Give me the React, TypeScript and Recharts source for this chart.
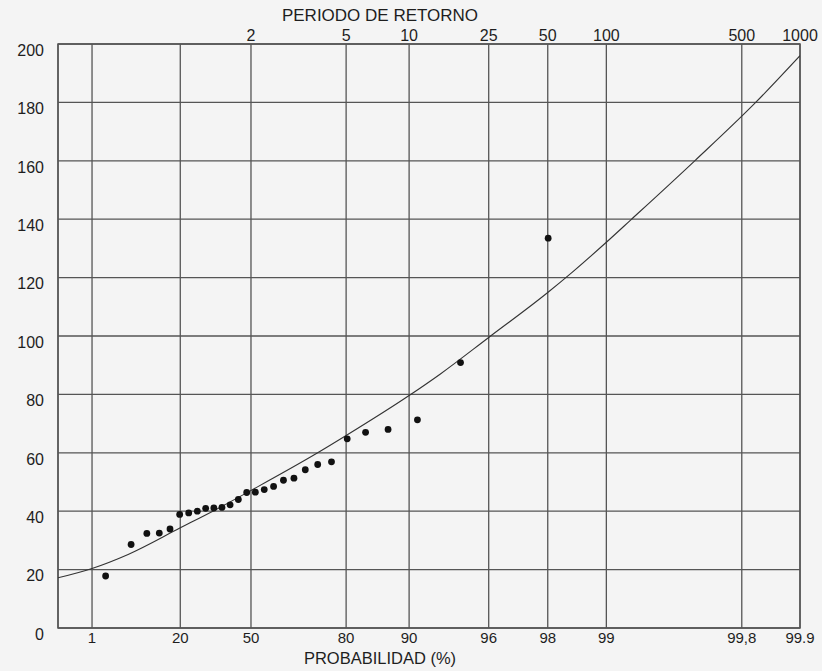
import React from 'react';
import {
  ComposedChart,
  XAxis,
  YAxis,
  CartesianGrid,
  Line,
  Scatter,
  ReferenceArea,
} from 'recharts';

// ---- data ----
// observed maxima: non-exceedance probability (%) and value
const pointProb = [
  1.99, 5.55, 9.1, 12.66, 16.22, 19.77, 23.33, 26.89, 30.44, 34.0, 37.55, 41.11,
  44.67, 48.22, 51.78, 55.33, 58.89, 62.45, 66.0, 69.56, 73.12, 76.67, 80.23,
  83.78, 87.34, 90.9, 94.45, 98.01,
];
const pointValue = [
  17.8, 28.6, 32.4, 32.5, 33.9, 38.9, 39.4, 40.0, 41.0, 41.1, 41.3, 42.2, 44.0,
  46.4, 46.5, 47.4, 48.5, 50.6, 51.3, 54.2, 56.0, 56.9, 64.8, 67.0, 68.0, 71.3,
  90.9, 133.5,
];
// fitted curve
const curveProb = [
  0.1, 1, 5, 20, 35, 50, 73, 80, 90, 93, 96, 98, 98.5, 99, 99.25, 99.65, 99.83,
  99.9,
];
const curveValue = [
  17.2, 20.4, 25.2, 34.3, 40.6, 47.1, 59.9, 65.9, 79.6, 87.0, 99.5, 114.9, 121.8,
  132.1, 139.7, 160.0, 179.9, 196.0,
];
// axes
const probTicks = [1, 20, 50, 80, 90, 96, 98, 99, 99.8, 99.9];
const probLabels = ['1', '20', '50', '80', '90', '96', '98', '99', '99,8', '99.9'];
const returnPeriods = [2, 5, 10, 25, 50, 100, 500, 1000];
const returnLabels = ['2', '5', '10', '25', '50', '100', '500', '1000'];
const yTicks = [0, 20, 40, 60, 80, 100, 120, 140, 160, 180, 200];
const probMin = 0.1;
const probMax = 99.9;

// ---- Gumbel probability paper transform ----
const gumbel = (p: number) => -Math.log(-Math.log(p / 100));
const xMin = gumbel(probMin);
const xMax = gumbel(probMax);

const points = pointProb.map((p, i) => ({ x: gumbel(p), y: pointValue[i] }));
const curve = curveProb.map((p, i) => ({ x: gumbel(p), y: curveValue[i] }));
const bottomTicks = probTicks.map(gumbel);
const topTicks = returnPeriods.map((t) => gumbel(100 * (1 - 1 / t)));

const FONT = '"Liberation Sans", Arial, Helvetica, sans-serif';
const INK = '#1e1e1e';
const GRID = '#555555';

const YTick = (props: any) => {
  const { x, y, payload } = props;
  return (
    <text x={x} y={y + 6} dy="0.36em" textAnchor="end" fontSize={16} fill={INK} fontFamily={FONT}>
      {payload.value}
    </text>
  );
};

const BottomTick = (props: any) => {
  const { x, y, index } = props;
  return (
    <text x={x} y={y + 10} dy="0.36em" textAnchor="middle" fontSize={15} fill={INK} fontFamily={FONT}>
      {probLabels[index]}
    </text>
  );
};

const TopTick = (props: any) => {
  const { x, y, index } = props;
  return (
    <text x={x} y={y - 9} dy="0.36em" textAnchor="middle" fontSize={16} fill={INK} fontFamily={FONT}>
      {returnLabels[index]}
    </text>
  );
};

const TopTitle = () => (
  <text x={380} y={21} textAnchor="middle" fontSize={17} fill={INK} fontFamily={FONT}>
    PERIODO DE RETORNO
  </text>
);

const BottomTitle = () => (
  <text x={380} y={664} textAnchor="middle" fontSize={16.5} fill={INK} fontFamily={FONT}>
    PROBABILIDAD (%)
  </text>
);

const Dot = (props: any) => {
  const { cx, cy } = props;
  if (cx == null || cy == null) return null;
  return <circle cx={cx} cy={cy} r={3.4} fill="#111" />;
};

export default function App() {
  return (
    <div
      style={{
        position: 'fixed',
        left: 0,
        top: 0,
        width: 822,
        height: 671,
        background: '#f4f4f4',
      }}
    >
      <ComposedChart
        width={822}
        height={671}
        margin={{ top: 24, right: 22, bottom: 13, left: 0 }}
      >
        <CartesianGrid
          xAxisId="bottom"
          yAxisId="left"
          stroke={GRID}
          strokeWidth={1.3}
          fill="none"
        />
        <XAxis
          xAxisId="bottom"
          type="number"
          dataKey="x"
          orientation="bottom"
          domain={[xMin, xMax]}
          allowDataOverflow
          ticks={bottomTicks}
          interval={0}
          height={30}
          axisLine={false}
          tickLine={false}
          tickSize={0}
          tickMargin={0}
          tick={<BottomTick />}
          label={<BottomTitle />}
        />
        <XAxis
          xAxisId="top"
          type="number"
          dataKey="x"
          orientation="top"
          domain={[xMin, xMax]}
          allowDataOverflow
          ticks={topTicks}
          interval={0}
          height={20}
          axisLine={false}
          tickLine={false}
          tickSize={0}
          tickMargin={0}
          tick={<TopTick />}
          label={<TopTitle />}
        />
        <YAxis
          yAxisId="left"
          type="number"
          domain={[0, 200]}
          ticks={yTicks}
          interval={0}
          width={58}
          axisLine={false}
          tickLine={false}
          tickSize={0}
          tickMargin={14}
          tick={<YTick />}
        />
        <ReferenceArea
          xAxisId="bottom"
          yAxisId="left"
          x1={xMin}
          x2={xMax}
          y1={0}
          y2={200}
          fill="none"
          fillOpacity={0}
          stroke={GRID}
          strokeWidth={1.5}
          ifOverflow="visible"
        />
        <Line
          xAxisId="bottom"
          yAxisId="left"
          data={curve}
          dataKey="y"
          type="monotone"
          stroke="#333"
          strokeWidth={1.1}
          dot={false}
          activeDot={false}
          isAnimationActive={false}
        />
        <Scatter
          xAxisId="bottom"
          yAxisId="left"
          data={points}
          dataKey="y"
          shape={<Dot />}
          isAnimationActive={false}
        />
      </ComposedChart>
    </div>
  );
}
